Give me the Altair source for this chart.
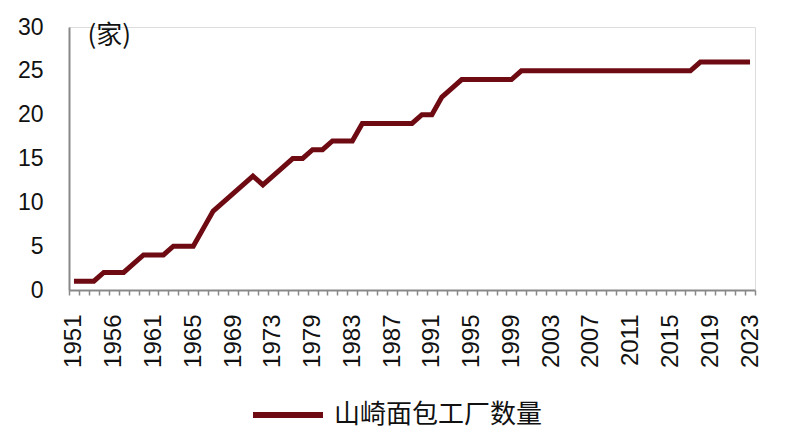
import altair as alt
import pandas as pd

years = ([1951, 1953, 1954, 1955, 1956, 1957, 1958, 1959]
         + list(range(1961, 1975))
         + [1976, 1978]
         + list(range(1979, 2024)))

counts = [1, 1, 1, 2, 2, 2, 3, 4, 4, 4,
          5, 5, 5, 7, 9, 10, 11, 12, 13, 12,
          13, 14, 15, 15, 16, 16, 17, 17, 17, 19,
          19, 19, 19, 19, 19, 20, 20, 22, 23, 24,
          24, 24, 24, 24, 24, 25, 25, 25, 25, 25,
          25, 25, 25, 25, 25, 25, 25, 25, 25, 25,
          25, 25, 25, 26, 26, 26, 26, 26, 26]

label_years = [1951, 1956, 1961, 1965, 1969, 1973, 1979, 1983, 1987, 1991,
               1995, 1999, 2003, 2007, 2011, 2015, 2019, 2023]

series_name = "山崎面包工厂数量"
unit_label = "(家)"
y_ticks = [0, 5, 10, 15, 20, 25, 30]

df = pd.DataFrame({"year": years, "count": counts, "series": series_name})

label_list = "[" + ",".join(str(y) for y in label_years) + "]"

FONT = "Liberation Sans"
CJK = "Noto Sans CJK SC"
COLOR = "#6E0B12"

chart = alt.Chart(df).mark_line(strokeWidth=5, strokeJoin="miter").encode(
    x=alt.X("year:O", sort=None, bandPosition=0.5,
            scale=alt.Scale(type="band", paddingInner=0, paddingOuter=0),
            axis=alt.Axis(title=None, labelAngle=-90, labelAlign="right", labelBaseline="middle",
                          labelFont=FONT, labelFontSize=24, labelColor="#111",
                          labelExpr=f"indexof({label_list}, datum.value) >= 0 ? datum.label : ''",
                          labelOverlap=False, labelPadding=19,
                          tickBand="extent", tickSize=5, tickColor="#888", tickWidth=1.5,
                          domainColor="#888", domainWidth=2, grid=False)),
    y=alt.Y("count:Q", scale=alt.Scale(domain=[0, 30], nice=False),
            axis=alt.Axis(values=y_ticks, title=unit_label, titleAngle=0, titleAlign="left",
                          titleBaseline="middle", titleX=18, titleY=8,
                          titleFont=CJK, titleFontSize=26, titleFontWeight="normal", titleColor="#111",
                          labelFont=FONT, labelFontSize=23, labelColor="#111",
                          ticks=False, tickSize=0, labelPadding=26,
                          domainColor="#888", domainWidth=2, grid=False)),
    color=alt.Color("series:N", scale=alt.Scale(range=[COLOR]),
                    legend=alt.Legend(title=None, orient="none", legendX=181, legendY=373,
                                      symbolType="stroke", symbolStrokeWidth=6, symbolSize=4900,
                                      clipHeight=30,
                                      labelFont=CJK, labelFontSize=26, labelColor="#111",
                                      labelOffset=8, labelLimit=0)),
).properties(
    width=686, height=263,
    autosize=alt.AutoSizeParams(type="none"),
    padding={"left": 61, "top": 19, "right": 26, "bottom": 140},
).configure_view(stroke=None).configure(background="white")

chart.save("out.html", embed_options={"renderer": "svg", "actions": False})
